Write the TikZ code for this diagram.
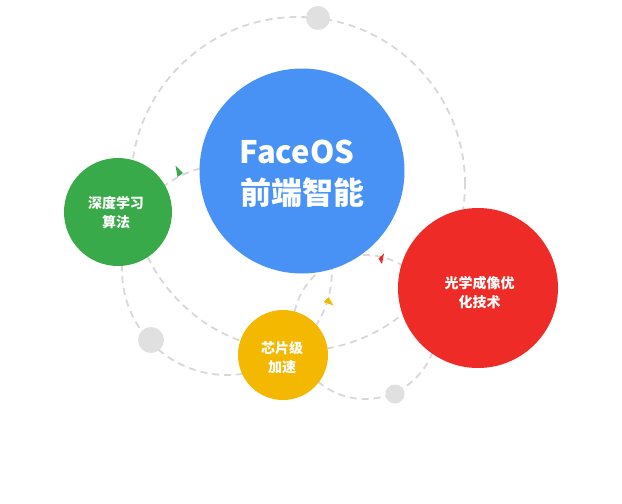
\documentclass[tikz,border=0pt]{standalone}
\usepackage{fontspec}
\setmainfont{Noto Sans CJK SC}
\definecolor{cblue}{RGB}{72,146,246}
\definecolor{cgreen}{RGB}{57,170,73}
\definecolor{cred}{RGB}{238,43,39}
\definecolor{cyellow}{RGB}{245,184,0}
\definecolor{cdot}{RGB}{224,224,224}
\definecolor{cdash}{RGB}{216,216,216}
\tikzset{
  orbit/.style={draw=cdash, line width=1.8pt, dash pattern=on 7pt off 5pt},
  ball/.style={circle, inner sep=0pt, text=white, font=\bfseries, align=center},
  graydot/.style={circle, fill=cdot, inner sep=0pt},
  tri/.style={line join=round}
}
\begin{document}
\begin{tikzpicture}[x=1pt,y=-1pt]
\useasboundingbox (0,0) rectangle (622,504);
\fill[white] (0,0) rectangle (622,504);
% orbit centres
\coordinate (o1) at (298,184);
\coordinate (o2) at (227,270);
\coordinate (o3) at (365,327);
\draw[orbit] (o1) circle (167pt);
\draw[orbit] (o2) circle (105pt);
\draw[orbit] (o3) circle (72pt);
% gray dots
\node[graydot, minimum size=24pt] (d1) at (318,18) {};
\node[graydot, minimum size=26pt] (d2) at (151,340) {};
\node[graydot, minimum size=19pt] (d3) at (395,394) {};
% arrow marks
\fill[cgreen, tri] (175.5,165.5) -- (177.5,177) -- (183,173) -- cycle;
\fill[cred, tri] (384,253.5) -- (378.5,258.5) -- (382,264) -- cycle;
\fill[cyellow, tri] (323.5,302) -- (328.5,297) -- (333.5,305.5) -- cycle;
% main balls
\node[ball, fill=cblue, minimum size=205pt] (blue) at (302,171) {};
\node[ball, fill=cgreen, minimum size=108pt] (green) at (118,212) {};
\node[ball, fill=cred, minimum size=160pt] (red) at (478,288) {};
\node[ball, fill=cyellow, minimum size=90pt] (yellow) at (283,355) {};
% texts
\node[text=white, font=\fontsize{31}{40}\selectfont\bfseries, inner sep=0pt] (t1) at (297,152) {FaceOS};
\node[text=white, font=\fontsize{31}{40}\selectfont\bfseries, inner sep=0pt] (t2) at (302,193) {前端智能};
\node[text=white, font=\fontsize{14}{19}\selectfont\bfseries, align=center, inner sep=0pt] (tg) at (116,212.5) {深度学习\\算法};
\node[text=white, font=\fontsize{14}{19}\selectfont\bfseries, align=center, inner sep=0pt] (ty) at (282,357.5) {芯片级\\加速};
\node[text=white, font=\fontsize{14}{19}\selectfont\bfseries, align=center, inner sep=0pt] (tr) at (479.5,292.5) {光学成像优\\化技术};
\end{tikzpicture}
\end{document}
